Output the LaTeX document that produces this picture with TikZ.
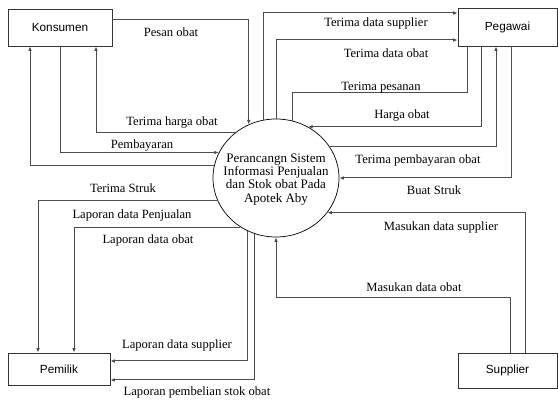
\documentclass[tikz,border=0pt]{standalone}
\usepackage{fontspec}
\setmainfont{Liberation Serif}
\newfontfamily\entfont{Liberation Sans}
\usetikzlibrary{arrows.meta,shapes.geometric}
\tikzset{
  entity/.style={draw=black!80,line width=0.8pt,rectangle,inner sep=0pt,font=\entfont\fontsize{11.8}{13}\selectfont},
  proc/.style={draw=black,line width=0.7pt,ellipse,inner sep=0pt,minimum width=126pt,minimum height=118pt},
  flow/.style={draw=black!70,line width=1pt},
  arr/.style={flow,-{Latex[length=4.5pt,width=3.6pt]}},
  lbl/.style={inner sep=0pt,font=\fontsize{12.6}{14}\selectfont},
}
\begin{document}
\begin{tikzpicture}[x=1pt,y=-1pt]
\useasboundingbox[fill=white] (0,0) rectangle (558,401);
% entities
\node[entity,minimum width=104pt,minimum height=37pt] (k) at (60,27.5) {Konsumen};
\node[entity,minimum width=99pt,minimum height=38pt] (g) at (507.5,27) {Pegawai};
\node[entity,minimum width=102pt,minimum height=32pt] (m) at (59,369) {Pemilik};
\node[entity,minimum width=99pt,minimum height=35pt] (s) at (507.5,370.5) {Supplier};
% process
\node[proc] (p) at (276,178) {};
\node[align=center,inner sep=0pt,font=\fontsize{13}{13.2}\selectfont] (pt) at (276,179.5)
  {Perancangn Sistem\\Informasi Penjualan\\dan Stok obat Pada\\Apotek Aby};
% Konsumen flows
\draw[arr] (k.east |- 0,20) -| (p.117.9);
\draw[arr] (p.132.1) -| (k.south -| 96,0);
\draw[arr] (k.south -| 60,0) |- (p.156.4);
\draw[arr] (p.169) -| (k.south -| 30,0);
% Pegawai flows
\draw[arr] (p.102.7) |- (g.west |- 0,13);
\draw[arr] (p.90) |- (g.west |- 0,40);
\draw[flow] (g.south -| 467,0) |- (p.74.3 |- 0,93) -- (p.74.3);
\draw[arr] (g.south -| 481,0) |- (p.58.1);
\draw[arr] (p.30) -| (g.south -| 496,0);
\draw[arr] (g.south -| 511,0) |- (p.0);
% Supplier flows
\draw[arr] (s.north -| 525,0) |- (p.-34.6);
\draw[arr] (s.north -| 510,0) |- (p.south |- 0,298) -- (p.south);
% Pemilik flows
\draw[arr] (p.201.6) -| (m.north -| 38,0);
\draw[arr] (p.234.4) -| (m.north -| 74,0);
\draw[arr] (p.242.1) |- (m.east |- 0,361);
\draw[arr] (p.249.3) |- (m.east |- 0,380);
% labels
\node[lbl] (l1) at (171,32) {Pesan obat};
\node[lbl] (l2) at (172,122) {Terima harga obat};
\node[lbl] (l3) at (142,145) {Pembayaran};
\node[lbl] (l4) at (123,188) {Terima Struk};
\node[lbl] (l5) at (376,23) {Terima data supplier};
\node[lbl] (l6) at (386,53) {Terima data obat};
\node[lbl] (l7) at (381,88) {Terima pesanan};
\node[lbl] (l8) at (402,115) {Harga obat};
\node[lbl] (l9) at (418,160) {Terima pembayaran obat};
\node[lbl] (l10) at (434,190) {Buat Struk};
\node[lbl] (l11) at (441,227) {Masukan data supplier};
\node[lbl] (l12) at (414,287) {Masukan data obat};
\node[lbl] (l13) at (132,215) {Laporan data Penjualan};
\node[lbl] (l14) at (148,240) {Laporan data obat};
\node[lbl] (l15) at (177,345) {Laporan data supplier};
\node[lbl] (l16) at (197,392) {Laporan pembelian stok obat};
\end{tikzpicture}
\end{document}
